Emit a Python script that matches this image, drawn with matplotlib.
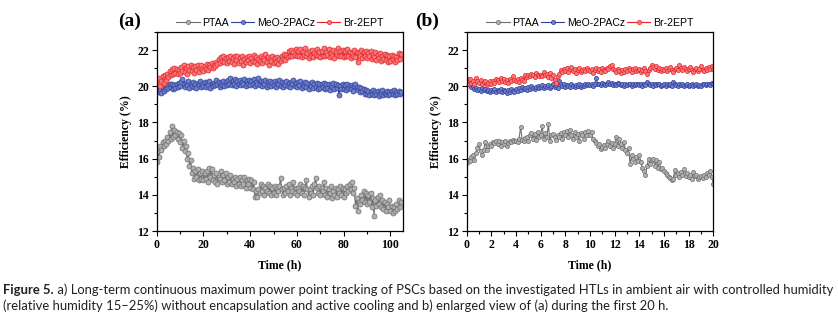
import numpy as np
import matplotlib
matplotlib.use("Agg")
import matplotlib.pyplot as plt
from matplotlib.ticker import MultipleLocator

# ---- (a) long-term MPP tracking, sampled every 0.5 h ----
time_a = np.arange(0, 105, 0.5)

ptaa_a = [
    15.8, 16.4, 16.1, 16.7, 16.5, 16.9, 16.7, 17.0, 16.8, 17.2, 17.0, 17.5, 17.1, 17.8, 17.2, 17.6, 17.3, 17.5, 17.1, 17.4,
    16.9, 17.3, 16.6, 17.0, 16.4, 16.7, 16.0, 16.3, 15.6, 15.9, 15.2, 15.5, 14.9, 15.3, 15.0, 15.4, 14.8, 15.2, 14.9, 15.3,
    14.8, 15.2, 14.9, 15.3, 14.7, 15.5, 15.0, 15.4, 14.8, 15.1, 14.7, 15.2, 14.6, 15.0, 14.9, 15.3, 14.7, 15.1, 14.8, 15.2,
    14.6, 15.0, 14.7, 15.1, 14.6, 14.9, 14.7, 15.0, 14.5, 14.9, 14.6, 15.0, 14.5, 14.8, 14.6, 15.0, 14.4, 14.8, 14.6, 14.9,
    14.4, 14.8, 14.3, 14.7, 13.9, 14.2, 13.9, 14.3, 14.1, 14.6, 14.2, 14.5, 14.0, 14.4, 14.2, 14.6, 14.1, 14.5, 14.0, 14.4,
    14.1, 14.5, 14.0, 14.4, 14.2, 14.5, 14.95, 14.3, 14.0, 14.4, 14.1, 14.5, 14.2, 14.6, 14.0, 14.4, 14.2, 14.7, 14.1, 14.4,
    14.0, 14.4, 14.2, 14.6, 14.1, 14.5, 14.0, 14.4, 14.8, 14.3, 13.9, 14.3, 14.1, 14.5, 14.0, 14.6, 14.95, 14.4, 14.1, 14.5,
    14.0, 14.4, 14.2, 14.7, 14.0, 14.4, 13.9, 14.3, 14.1, 14.5, 13.8, 14.2, 14.0, 14.4, 13.9, 14.3, 14.1, 14.5, 14.0, 14.4,
    13.9, 14.3, 14.1, 14.5, 14.2, 14.6, 14.3, 14.7, 14.1, 14.4, 13.4, 13.8, 13.1, 13.6, 13.5, 14.0, 13.7, 14.2, 13.6, 14.1,
    13.5, 14.0, 13.6, 14.1, 13.3, 13.8, 12.85, 13.7, 13.4, 13.9, 13.5, 14.0, 13.3, 13.7, 13.2, 13.6, 13.1, 13.5, 13.3, 13.7,
    13.1, 13.4, 13.0, 13.3, 13.1, 13.5, 13.2, 13.7, 13.3, 13.6,
]

meo_a = [
    19.85, 19.75, 19.7, 19.8, 19.65, 19.9, 19.75, 19.95, 19.85, 20.05, 19.9, 20.15, 19.95, 20.1, 19.85, 20.05, 19.9, 20.1, 19.95, 20.2,
    20.0, 20.25, 20.4, 20.15, 19.95, 20.2, 20.05, 20.3, 19.9, 20.15, 20.0, 20.25, 19.95, 20.1, 19.9, 20.2, 20.05, 20.3, 19.95, 20.15,
    20.0, 20.25, 19.95, 20.2, 20.05, 20.3, 19.9, 20.15, 20.0, 20.2, 20.05, 20.35, 20.1, 20.25, 19.95, 20.2, 20.05, 20.3, 20.0, 20.25,
    20.05, 20.35, 20.1, 20.45, 20.05, 20.3, 20.15, 20.4, 20.0, 20.3, 20.1, 20.35, 20.05, 20.25, 20.15, 20.4, 20.0, 20.3, 20.1, 20.35,
    20.05, 20.3, 20.1, 20.4, 20.0, 20.25, 20.15, 20.45, 20.05, 20.3, 20.0, 20.25, 20.1, 20.35, 19.95, 20.25, 20.05, 20.3, 20.0, 20.2,
    20.05, 20.3, 19.95, 20.2, 20.1, 20.35, 20.0, 20.25, 19.95, 20.2, 20.05, 20.3, 20.0, 20.2, 19.95, 20.25, 20.1, 20.35, 20.0, 20.2,
    19.95, 20.25, 20.05, 20.3, 19.9, 20.15, 20.0, 20.25, 19.95, 20.2, 19.85, 20.15, 20.0, 20.25, 19.9, 20.1, 19.95, 20.2, 19.85, 20.15,
    19.9, 20.15, 19.95, 20.2, 19.85, 20.1, 19.9, 20.15, 19.8, 20.05, 19.95, 20.2, 19.85, 20.1, 19.9, 20.05, 19.5, 20.0, 19.85, 20.1,
    19.85, 20.05, 19.8, 20.1, 19.9, 20.0, 19.85, 20.05, 19.75, 20.0, 20.15, 19.95, 19.8, 19.95, 19.7, 19.9, 19.75, 19.85, 19.6, 19.8,
    19.55, 19.75, 19.5, 19.7, 19.6, 19.8, 19.5, 19.7, 19.55, 19.75, 19.45, 19.7, 19.6, 19.8, 19.5, 19.65, 19.55, 19.75, 19.5, 19.7,
    19.55, 19.75, 19.6, 19.8, 19.5, 19.7, 19.55, 19.75, 19.6, 19.7,
]

br_a = [
    20.35, 20.1, 20.45, 20.0, 20.3, 20.55, 20.2, 20.6, 20.35, 20.7, 20.5, 20.85, 20.6, 20.95, 20.7, 21.0, 20.75, 20.95, 20.7, 20.9,
    20.75, 21.05, 20.85, 21.15, 20.8, 21.0, 20.7, 21.1, 20.9, 21.2, 20.85, 21.05, 20.75, 21.1, 20.9, 21.15, 20.8, 21.0, 21.2, 20.95,
    20.85, 21.1, 20.95, 21.25, 20.9, 21.15, 21.05, 21.3, 21.0, 21.2, 21.1, 21.35, 21.25, 21.5, 21.3, 21.6, 21.4, 21.65, 21.35, 21.55,
    21.3, 21.6, 21.4, 21.7, 21.35, 21.55, 21.25, 21.65, 21.45, 21.7, 21.3, 21.55, 21.4, 21.65, 21.2, 21.5, 21.35, 21.6, 21.45, 21.7,
    21.3, 21.55, 21.4, 21.75, 21.35, 21.6, 21.25, 21.5, 21.4, 21.7, 21.3, 21.55, 21.45, 21.8, 21.35, 21.6, 21.2, 21.5, 21.4, 21.65,
    21.3, 21.55, 21.35, 21.6, 21.25, 21.5, 21.4, 21.7, 21.5, 21.8, 21.45, 21.75, 21.6, 21.95, 21.7, 22.0, 21.65, 21.9, 21.75, 22.05,
    21.65, 21.95, 21.7, 22.05, 21.6, 21.9, 21.75, 22.1, 21.65, 21.85, 21.55, 21.95, 21.7, 22.0, 21.6, 21.85, 21.75, 22.05, 21.65, 21.9,
    21.6, 21.95, 21.7, 22.1, 21.65, 21.9, 21.75, 22.05, 21.6, 21.85, 21.7, 22.0, 21.55, 21.9, 21.75, 22.1, 21.65, 21.95, 21.7, 22.0,
    21.6, 21.95, 21.7, 22.05, 21.65, 21.9, 21.55, 21.85, 21.7, 22.0, 21.6, 21.9, 21.35, 21.85, 21.65, 22.0, 21.55, 21.9, 21.7, 21.95,
    21.55, 21.85, 21.65, 21.95, 21.5, 21.8, 21.6, 21.9, 21.45, 21.75, 21.55, 21.85, 21.4, 21.7, 21.5, 21.8, 21.45, 21.75, 21.35, 21.65,
    21.4, 21.75, 21.5, 21.7, 21.35, 21.6, 21.45, 21.85, 21.5, 21.8,
]

# ---- (b) first 20 h, sampled every 0.125 h ----
time_b = np.arange(0, 20.001, 0.125)

ptaa_b = [
    15.75, 15.95, 15.85, 16.1, 16.2, 15.9, 16.3, 16.6, 16.8, 16.4, 16.2, 16.5, 16.9, 16.5, 16.7, 16.8,
    16.7, 16.9, 16.85, 17.0, 16.8, 16.95, 16.7, 16.9, 16.8, 16.95, 16.7, 16.85, 17.0, 16.9, 17.05, 16.95,
    17.0, 16.9, 17.1, 17.75, 17.05, 16.95, 17.15, 17.2, 16.95, 17.3, 17.4, 17.1, 17.35, 17.05, 17.5, 17.2,
    17.3, 17.8, 17.1, 17.4, 17.2, 17.9, 16.95, 17.3, 17.35, 17.2, 17.05, 17.3, 17.2, 17.4, 17.1, 17.45,
    17.3, 17.55, 17.2, 17.6, 17.3, 17.1, 17.45, 17.2, 17.35, 16.95, 17.4, 17.3, 17.1, 17.45, 17.3, 17.55,
    17.3, 17.45, 17.1, 17.0, 16.85, 16.7, 16.8, 16.55, 16.65, 16.75, 16.6, 16.8, 16.95, 16.7, 16.85, 16.6,
    16.8, 17.2, 16.7, 17.1, 16.8, 16.6, 16.9, 16.5, 16.3, 16.6, 15.7, 16.2, 16.0, 15.8, 16.1, 15.85,
    16.2, 15.8, 15.5, 15.3, 15.1, 15.6, 16.0, 15.7, 15.9, 16.0, 15.6, 15.9, 15.5, 15.8, 15.4, 15.5,
    15.3, 15.2, 15.1, 15.0, 14.95, 14.8, 14.9, 15.35, 15.1, 15.2, 15.0, 15.25, 15.1, 15.45, 15.05, 15.2,
    15.0, 15.1, 14.9, 15.25, 15.05, 15.1, 14.9, 15.0, 15.05, 14.95, 15.1, 15.0, 15.2, 15.1, 15.3, 15.0, 14.6,
]

meo_b = [
    20.4, 20.15, 20.05, 19.95, 20.0, 19.85, 19.9, 19.8, 19.85, 19.75, 19.9, 19.8, 19.85, 19.75, 19.8, 19.7,
    19.8, 19.75, 19.85, 19.7, 19.8, 19.75, 19.85, 19.7, 19.8, 19.75, 19.65, 19.8, 19.7, 19.85, 19.75, 19.7,
    19.85, 19.75, 19.9, 19.8, 19.95, 19.85, 19.9, 19.8, 19.95, 19.85, 20.0, 19.9, 19.85, 19.95, 20.0, 19.9,
    19.95, 20.05, 19.9, 20.0, 19.95, 20.05, 19.9, 20.0, 20.1, 19.95, 20.05, 19.9, 20.3, 20.1, 20.0, 20.1,
    19.95, 20.05, 20.0, 19.95, 20.1, 20.0, 19.95, 20.05, 20.0, 20.1, 19.95, 20.05, 20.0, 20.1, 20.05, 20.15,
    20.05, 20.1, 20.0, 20.15, 20.45, 20.1, 20.15, 20.05, 20.2, 20.1, 20.05, 20.15, 20.25, 20.1, 20.2, 20.05,
    20.15, 20.05, 20.2, 20.1, 20.05, 20.15, 20.0, 20.1, 20.05, 20.15, 20.1, 20.0, 20.1, 20.05, 20.15, 20.1,
    20.05, 20.1, 20.0, 20.15, 20.05, 20.25, 20.1, 20.05, 20.15, 20.0, 20.1, 20.05, 20.15, 20.1, 20.0, 20.05,
    20.1, 20.0, 20.15, 20.05, 20.1, 20.0, 20.25, 20.1, 20.05, 20.0, 20.1, 20.05, 20.15, 20.0, 20.05, 20.1,
    20.0, 20.05, 20.1, 20.0, 20.05, 20.1, 20.0, 20.05, 20.0, 20.1, 20.15, 20.05, 20.1, 20.15, 20.05, 20.2, 20.1,
]

br_b = [
    20.25, 20.15, 20.4, 20.2, 20.3, 20.1, 20.45, 20.3, 20.2, 20.35, 20.1, 20.25, 20.3, 20.05, 20.2, 20.3,
    20.15, 20.3, 20.2, 20.4, 20.35, 20.25, 20.45, 20.3, 20.4, 20.25, 20.35, 20.2, 20.4, 20.3, 20.55, 20.35,
    20.3, 20.4, 20.25, 20.45, 20.35, 20.3, 20.6, 20.5, 20.65, 20.55, 20.7, 20.6, 20.5, 20.75, 20.6, 20.55,
    20.65, 20.55, 20.8, 20.6, 20.7, 20.5, 20.75, 20.45, 20.6, 20.35, 20.2, 20.55, 20.7, 20.9, 20.8, 20.95,
    20.85, 21.0, 20.8, 20.95, 21.05, 20.85, 20.95, 20.75, 20.9, 21.0, 20.8, 20.9, 20.95, 20.85, 21.0, 20.9,
    20.85, 20.95, 20.75, 20.9, 21.0, 20.85, 20.95, 20.8, 21.0, 20.9, 20.85, 21.0, 20.95, 21.1, 21.15, 20.95,
    20.9, 20.8, 20.95, 20.85, 20.75, 20.9, 20.8, 20.95, 20.85, 21.0, 20.9, 20.8, 20.95, 21.0, 20.85, 20.9,
    20.95, 20.8, 20.9, 21.0, 20.85, 20.7, 20.9, 21.0, 21.2, 21.05, 20.95, 21.1, 20.9, 21.0, 20.85, 20.95,
    20.9, 21.0, 20.85, 20.95, 21.05, 20.9, 20.8, 20.95, 21.0, 20.9, 21.15, 21.0, 20.9, 21.05, 20.95, 20.85,
    20.95, 21.05, 20.9, 20.8, 20.95, 21.0, 20.85, 20.95, 21.1, 20.9, 20.85, 21.0, 20.9, 21.05, 20.95, 21.1, 20.95,
]

labels = ["PTAA", "MeO-2PACz", "Br-2EPT"]
# (line colour, marker face colour)
styles = [("#6f6f6f", "#b0b0b0"), ("#2f3f9c", "#6d7fc8"), ("#e8222a", "#f47a7a")]

serif = "Liberation Serif"
sans = "Liberation Sans"

fig = plt.figure(figsize=(8.38, 3.22), dpi=100)
ax_a = fig.add_axes([0.187, 0.2826, 0.2943, 0.618])
ax_b = fig.add_axes([0.5569, 0.2826, 0.2943, 0.618])


def draw_panel(ax, t, series, xmax, xmajor, xminor, ms):
    for y, lab, (lc, fc) in zip(series, labels, styles):
        ax.plot(t, y, color=lc, lw=0.8, marker="o", ms=ms, mfc=fc, mec=lc,
                mew=0.5, label=lab)
    ax.set_xlim(0, xmax)
    ax.set_ylim(12, 23)
    ax.xaxis.set_major_locator(MultipleLocator(xmajor))
    ax.xaxis.set_minor_locator(MultipleLocator(xminor))
    ax.yaxis.set_major_locator(MultipleLocator(2))
    ax.yaxis.set_minor_locator(MultipleLocator(1))
    ax.tick_params(which="both", direction="out", width=0.8, pad=2,
                   labelsize=8.5)
    ax.tick_params(which="major", length=3.5)
    ax.tick_params(which="minor", length=2)
    for lbl in ax.get_xticklabels() + ax.get_yticklabels():
        lbl.set_fontfamily(serif)
        lbl.set_fontweight("bold")
    for sp in ax.spines.values():
        sp.set_linewidth(0.9)
    ax.set_xlabel("Time (h)", family=serif, weight="bold", fontsize=8.5,
                  labelpad=6)
    ax.set_ylabel("Efficiency (%)", family=serif, weight="bold", fontsize=8.5,
                  labelpad=4)
    leg = ax.legend(loc="lower center", bbox_to_anchor=(0.5, 0.99), ncol=3,
                    frameon=False, handlelength=2.2, handletextpad=0.25,
                    columnspacing=0.2, borderaxespad=0.2,
                    prop={"family": sans, "size": 7.6})
    for h in leg.legend_handles:
        h.set_markersize(3.0)


draw_panel(ax_a, time_a, [ptaa_a, meo_a, br_a], 105.5, 20, 10, 3.6)
draw_panel(ax_b, time_b, [ptaa_b, meo_b, br_b], 20, 2, 1, 3.0)

fig.text(130 / 838, 1 - 21 / 322, "(a)", family=serif, weight="bold",
         fontsize=14, ha="center", va="center")
fig.text(427 / 838, 1 - 21 / 322, "(b)", family=serif, weight="bold",
         fontsize=14, ha="center", va="center")

# figure caption, "Figure 5." in bold followed by regular text
cap_font = "Lato"
cap_size = 9.35
cap_color = "#231f20"
line1 = (" a) Long-term continuous maximum power point tracking of PSCs based on the "
         "investigated HTLs in ambient air with controlled humidity")
line2 = ("(relative humidity 15\u201325%) without encapsulation and active cooling "
         "and b) enlarged view of (a) during the first 20 h.")
renderer = fig.canvas.get_renderer()
head = fig.text(3 / 838, 1 - 290 / 322, "Figure 5.", family=cap_font,
                weight="bold", fontsize=cap_size, color=cap_color, va="center")
bb = head.get_window_extent(renderer)
fig.text(bb.x1 / fig.bbox.width, 1 - 290 / 322, line1, family=cap_font,
         fontsize=cap_size, color=cap_color, va="center")
fig.text(3 / 838, 1 - 306 / 322, line2, family=cap_font, fontsize=cap_size,
         color=cap_color, va="center")

fig.savefig("out.png", dpi=100)
